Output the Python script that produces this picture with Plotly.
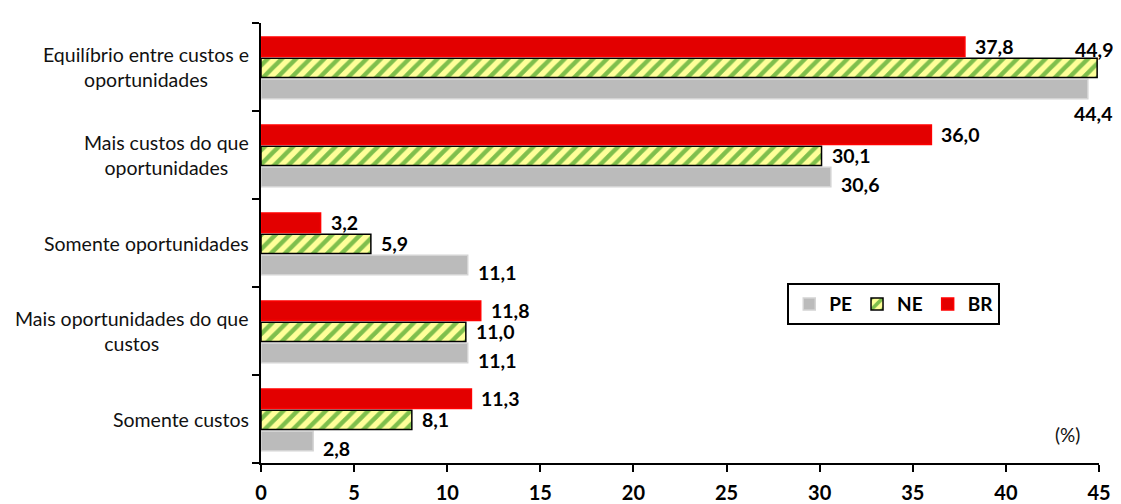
import plotly.graph_objects as go

categories = ["Somente custos", "Mais oportunidades do que<br>custos", "Somente oportunidades",
              "Mais custos do que<br>oportunidades", "Equilíbrio entre custos e<br>oportunidades"]
pe = [2.8, 11.1, 11.1, 30.6, 44.4]
ne = [8.1, 11.0, 5.9, 30.1, 44.9]
br = [11.3, 11.8, 3.2, 36.0, 37.8]
x_ticks = [0, 5, 10, 15, 20, 25, 30, 35, 40, 45]

FONT = "Lato"
LBL = dict(family=FONT, size=19.5, color="#000", weight="bold")
idx = list(range(len(categories)))
W = 0.22
series = [
    dict(name="PE", vals=pe, offset=-0.36, yshift=-7, over="below", oxshift=6,
         marker=dict(color="#BBBBBB", line=dict(color="#D4D4D4", width=1.5))),
    dict(name="NE", vals=ne, offset=-0.12, yshift=0, over="above", oxshift=-3,
         marker=dict(color="#FFFF99", line=dict(color="#000000", width=1.5),
                     pattern=dict(shape="/", fgcolor="#008000", bgcolor="#FFFF99",
                                  size=10, solidity=0.45, fillmode="overlay"))),
    dict(name="BR", vals=br, offset=0.12, yshift=0, over="above", oxshift=0,
         marker=dict(color="#E30000", line=dict(color="#FF0000", width=1.5))),
]

fig = go.Figure()
annotations = []
for s in series:
    fig.add_trace(go.Bar(
        x=s["vals"], y=idx, orientation="h", name=s["name"],
        width=W, offset=s["offset"], marker=s["marker"], hoverinfo="x+name"))
    for i, v in zip(idx, s["vals"]):
        label = f"{v:.1f}".replace(".", ",")
        yc = i + s["offset"] + W / 2
        if v > 0.95 * 45:
            if s["over"] == "above":
                annotations.append(dict(x=v, y=i + s["offset"] + W, xref="x", yref="y", text=label,
                                        showarrow=False, xanchor="center", yanchor="bottom", yshift=-5,
                                        font=LBL, xshift=s["oxshift"]))
            else:
                annotations.append(dict(x=v, y=i + s["offset"], xref="x", yref="y", text=label,
                                        showarrow=False, xanchor="center", yanchor="top", yshift=-1,
                                        font=LBL, xshift=s["oxshift"]))
        else:
            annotations.append(dict(x=v, y=yc, xref="x", yref="y", text=label, showarrow=False,
                                    xanchor="left", yanchor="middle", xshift=8, yshift=s["yshift"],
                                    font=LBL))

for i, c in zip(idx, categories):
    annotations.append(dict(x=0, y=i, xref="paper", yref="y", text=c, showarrow=False,
                            xanchor="right", yanchor="middle", align="center", xshift=-10,
                            font=dict(family=FONT, size=19.5, color="#111")))

annotations.append(dict(x=0.963, y=0.064, xref="paper", yref="paper", text="(%)", showarrow=False,
                        xanchor="center", yanchor="middle", font=dict(family=FONT, size=19, color="#111")))

fig.update_layout(
    width=1113, height=496,
    margin=dict(l=253, r=22, t=15, b=41),
    plot_bgcolor="white", paper_bgcolor="white",
    barmode="overlay",
    showlegend=True,
    legend=dict(orientation="h", x=0.628, y=0.409, xanchor="left", yanchor="top",
                bordercolor="#000", borderwidth=2, bgcolor="white",
                font=dict(family=FONT, size=19, color="#000", weight="bold"),
                traceorder="normal", itemwidth=30),
    annotations=annotations,
    font=dict(family=FONT),
)
fig.update_xaxes(range=[0, 45], tickvals=x_ticks, ticktext=[str(t) for t in x_ticks],
                 showgrid=False, zeroline=False, showline=True, linecolor="#000", linewidth=2,
                 ticks="outside", ticklen=7, tickwidth=2, tickcolor="#000", ticklabelstandoff=4,
                 automargin=False,
                 tickfont=dict(family=FONT, size=20, color="#000", weight="bold"))
fig.update_yaxes(range=[-0.5, 4.5], tickvals=[k - 0.5 for k in range(len(categories) + 1)],
                 ticktext=["" for _ in range(len(categories) + 1)], automargin=False,
                 showgrid=False, zeroline=False, showline=True, linecolor="#000", linewidth=2,
                 ticks="outside", ticklen=7, tickwidth=2, tickcolor="#000")

fig.write_html("out.html")
